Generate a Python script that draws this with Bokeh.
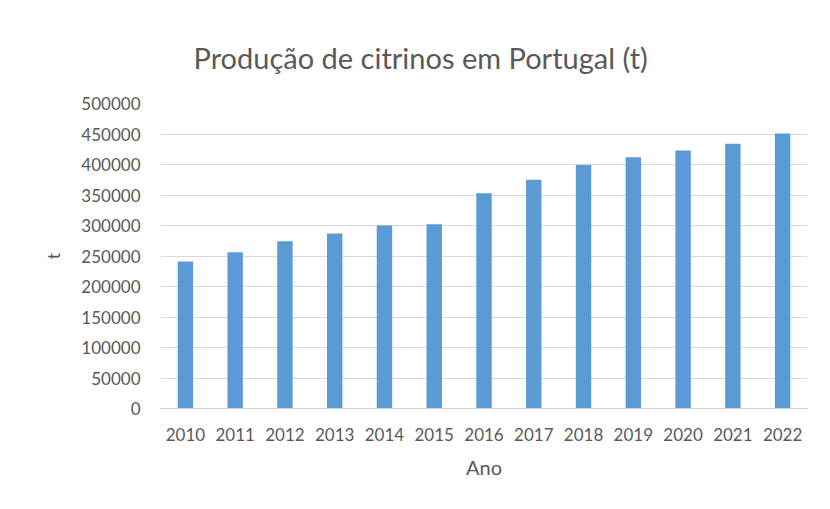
from bokeh.plotting import figure
from bokeh.models import Range1d, FactorRange, FixedTicker, BasicTickFormatter
from bokeh.embed import file_html
from bokeh.resources import INLINE

years = ["2010", "2011", "2012", "2013", "2014", "2015", "2016",
         "2017", "2018", "2019", "2020", "2021", "2022"]
production = [241000, 256000, 274000, 287000, 300000, 302000, 353000,
              375000, 399000, 412000, 423000, 434000, 451000]
y_ticks = [0, 50000, 100000, 150000, 200000, 250000, 300000,
           350000, 400000, 450000, 500000]
title_text = "Produção de citrinos em Portugal (t)"
x_label = "Ano"
y_label = "t"

FONT = "Lato"
TXT = "#595959"

p = figure(width=822, height=501, output_backend="svg", toolbar_location=None,
           x_range=FactorRange(*years, range_padding=0),
           y_range=Range1d(0, 500000),
           min_border_left=160, min_border_right=15,
           min_border_top=103, min_border_bottom=93)
p.outline_line_color = None
p.background_fill_color = "white"
p.border_fill_color = "white"

p.title.text = title_text
p.title.text_font = FONT
p.title.text_font_size = "29px"
p.title.text_font_style = "normal"
p.title.text_color = TXT
p.title.align = "left"
p.title.offset = 33
p.title.standoff = 57

p.vbar(x=years, top=production, width=0.31, color="#5B9BD5", line_color=None)

p.xgrid.grid_line_color = None
p.ygrid.grid_line_color = "#d9d9d9"
p.ygrid.grid_line_width = 1
p.yaxis.ticker = FixedTicker(ticks=y_ticks)
p.yaxis.formatter = BasicTickFormatter(use_scientific=False)

for ax in (p.xaxis[0], p.yaxis[0]):
    ax.major_tick_line_color = None
    ax.minor_tick_line_color = None
    ax.major_tick_out = 0
    ax.major_tick_in = 0
    ax.minor_tick_out = 0
    ax.major_label_text_font = FONT
    ax.major_label_text_font_size = "17px"
    ax.major_label_text_color = TXT
    ax.axis_label_text_font = FONT
    ax.axis_label_text_font_style = "normal"
    ax.axis_label_text_color = TXT

p.yaxis.axis_line_color = None
p.yaxis.major_label_standoff = 20
p.yaxis.axis_label = y_label
p.yaxis.axis_label_text_font_size = "18px"
p.yaxis.axis_label_standoff = 14

p.xaxis.axis_line_color = "#d0d0d0"
p.xaxis.major_label_standoff = 19
p.xaxis.axis_label = x_label
p.xaxis.axis_label_text_font_size = "20px"
p.xaxis.axis_label_standoff = 11

open("out.html", "w").write(file_html(p, INLINE))
